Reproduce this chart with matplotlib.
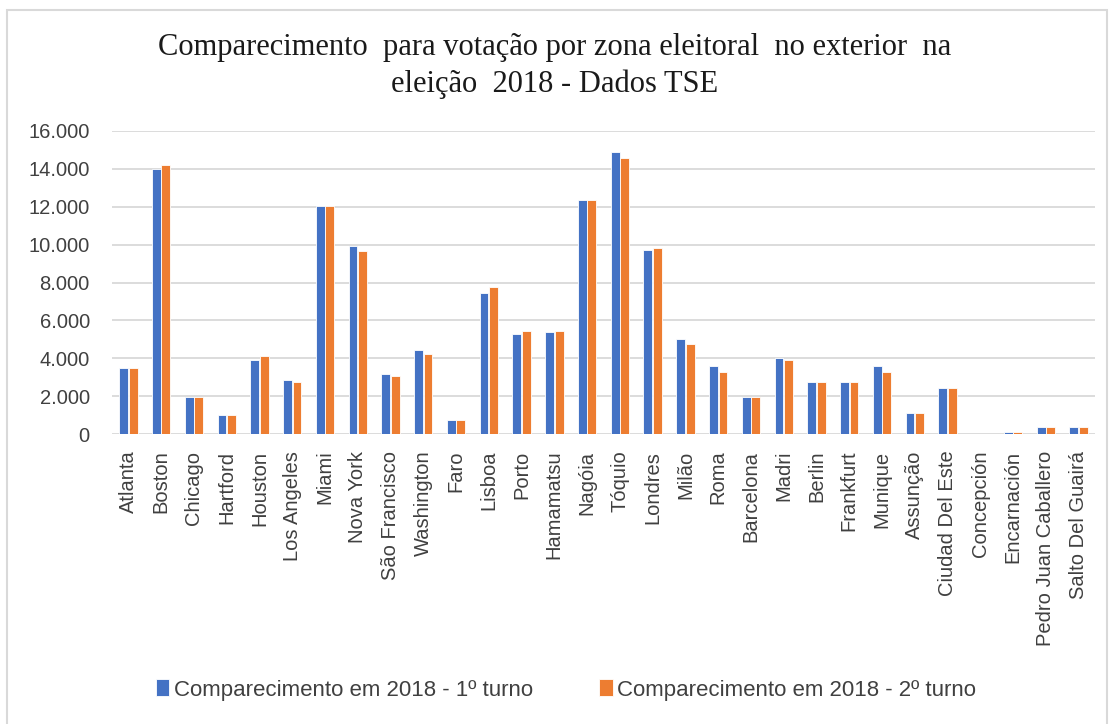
import numpy as np
import matplotlib
matplotlib.use("Agg")
import matplotlib.pyplot as plt
from matplotlib.patches import Rectangle
from matplotlib.ticker import FuncFormatter

cidades = ["Atlanta", "Boston", "Chicago", "Hartford", "Houston", "Los Angeles",
           "Miami", "Nova York", "São Francisco", "Washington", "Faro", "Lisboa",
           "Porto", "Hamamatsu", "Nagóia", "Tóquio", "Londres", "Milão", "Roma",
           "Barcelona", "Madri", "Berlin", "Frankfurt", "Munique", "Assunção",
           "Ciudad Del Este", "Concepción", "Encarnación", "Pedro Juan Caballero",
           "Salto Del Guairá"]

turno1 = [3500, 14000, 1950, 1000, 3900, 2850, 12050, 9950, 3170, 4420, 760, 7450,
          5260, 5360, 12350, 14880, 9720, 5030, 3610, 1950, 4030, 2740, 2740, 3610,
          1100, 2440, 0, 120, 350, 350]
turno2 = [3500, 14200, 1950, 1000, 4100, 2740, 12050, 9650, 3060, 4210, 760, 7750,
          5460, 5460, 12350, 14570, 9830, 4730, 3290, 1950, 3930, 2740, 2740, 3290,
          1100, 2440, 0, 120, 350, 350]

titulo = "Comparecimento  para votação por zona eleitoral  no exterior  na\neleição  2018 - Dados TSE"
legendas = ["Comparecimento em 2018 - 1º turno", "Comparecimento em 2018 - 2º turno"]

azul = "#4472C4"
laranja = "#ED7D31"

plt.rcParams["font.family"] = ["Liberation Sans", "DejaVu Sans"]

fig = plt.figure(figsize=(11.1, 7.24), dpi=100)
fig.patches.append(Rectangle((7 / 1110, -0.01), 1100 / 1110, 1 - 10 / 724 + 0.01,
                             transform=fig.transFigure, fill=False,
                             edgecolor="#D9D9D9", linewidth=1.5))

ax = fig.add_axes([112 / 1110, 1 - 434 / 724, (1095 - 112) / 1110, (434 - 131) / 724])

x = np.arange(len(cidades))
w = 0.27
ax.bar(x - w / 2 - 0.01, turno1, width=w, color=azul, edgecolor="white",
       linewidth=0.6, label=legendas[0], zorder=3)
ax.bar(x + w / 2 + 0.01, turno2, width=w, color=laranja, edgecolor="white",
       linewidth=0.6, label=legendas[1], zorder=3)

ax.set_xlim(-0.5, len(cidades) - 0.5)
ax.set_ylim(0, 16000)
ax.set_yticks(np.arange(0, 16001, 2000))
ax.yaxis.set_major_formatter(FuncFormatter(lambda v, p: f"{int(v):,}".replace(",", ".")))
ax.grid(axis="y", color="#D9D9D9", linewidth=1.3, zorder=0)
for s in ax.spines.values():
    s.set_visible(False)
ax.tick_params(axis="both", length=0, colors="#404040")
ax.tick_params(axis="y", pad=16, labelsize=14.5)
ax.set_xticks(x)
ax.set_xticklabels(cidades, rotation=90, fontsize=14.5, color="#404040")
ax.tick_params(axis="x", pad=12)

fig.text(0.5, 1 - 66 / 724, titulo, ha="center", va="center", fontsize=22,
         family="Liberation Serif", color="#1a1a1a", linespacing=1.3)

fig.legend(loc="center", bbox_to_anchor=(0.51, 1 - 690 / 724), ncol=2, frameon=False,
           fontsize=16, handlelength=0.6, handleheight=0.8, handletextpad=0.2,
           columnspacing=3.0, labelcolor="#404040")

fig.savefig("out.png", dpi=100)
